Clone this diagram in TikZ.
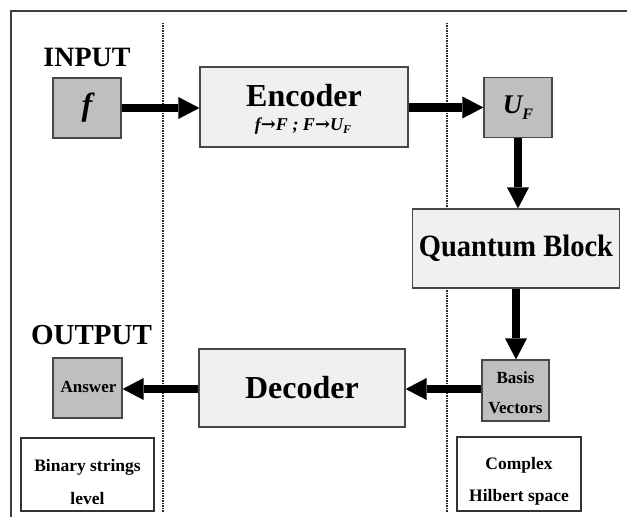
\documentclass[tikz,border=0pt]{standalone}
\usepackage{fontspec}
\usepackage{graphicx}
\setmainfont{Liberation Serif}
\newfontfamily\arrowfont{DejaVu Serif}
\usetikzlibrary{arrows.meta}
\newcommand{\setfs}[1]{\fontsize{#1}{#1}\selectfont}
\newcommand{\maparrow}{{\arrowfont\upshape\bfseries →}}

\tikzset{
  box/.style={draw=black!72, line width=1.2pt, inner sep=0pt, align=center, font=\bfseries},
  darkbox/.style={box, fill=black!25},
  lightbox/.style={box, fill=black!6},
  notebox/.style={box, fill=white, draw=black!80},
  txt/.style={inner sep=0pt, font=\bfseries},
  flow/.style={line width=8.5pt, draw=black,
    -{Triangle[length=21pt,width=22pt,line width=0pt]}},
  divider/.style={draw=black!85, line width=1.3pt, dash pattern=on 1.3pt off 1.2pt},
  frame/.style={draw=black!75, line width=1.4pt}
}

\begin{document}
\begin{tikzpicture}[x=1pt,y=-1pt]
\useasboundingbox (0,0) rectangle (627,518);

% outer frame and level separators
\draw[frame] (11,517) -- (11,11) -- (627,11);
\draw[divider] (163,23) -- (163,512);
\draw[divider] (447,23) -- (447,512);

% headings
\node[txt, font=\bfseries\setfs{28}] (input) at (87,57.5) {INPUT};
\node[txt, font=\bfseries\setfs{29}] (output) at (91.5,335) {OUTPUT};

% blocks
\node[darkbox, minimum width=68pt, minimum height=60pt] (f) at (87,108)
  {\setfs{32}\itshape f};
\node[lightbox, minimum width=208pt, minimum height=80pt] (enc) at (304,107) {};
\node[txt, anchor=base, font=\bfseries\setfs{32}] (enctitle) at (304,107) {Encoder};
\node[txt, anchor=base, font=\bfseries\itshape\setfs{18}] (encmap) at (303,131)
  {f\maparrow F ; F\maparrow U\raisebox{-3pt}{\setfs{12}F}};
\node[darkbox, minimum width=68pt, minimum height=60pt] (uf) at (518,107.5)
  {\setfs{27}\itshape U\raisebox{-6pt}{\setfs{16}F}};
\node[lightbox, minimum width=207pt, minimum height=79pt] (qb) at (516,248.5)
  {\setfs{31}\scalebox{0.92}[1]{Quantum Block}};
\node[darkbox, minimum width=67pt, minimum height=61pt] (bv) at (515.5,390.5) {};
\node[txt, anchor=base, font=\bfseries\setfs{17}] (bv1) at (515.5,384) {Basis};
\node[txt, anchor=base, font=\bfseries\setfs{17}] (bv2) at (515.5,414) {Vectors};
\node[lightbox, minimum width=206pt, minimum height=78pt] (dec) at (302,388)
  {\setfs{32}Decoder};
\node[darkbox, minimum width=69pt, minimum height=60pt] (ans) at (87.5,388) {};
\node[txt, anchor=base, font=\bfseries\setfs{17}] (anstext) at (88.5,393) {Answer};

% level notes
\node[notebox, minimum width=133pt, minimum height=73pt] (bin) at (87.5,474.5) {};
\node[txt, anchor=base, font=\bfseries\setfs{17.5}] (bin1) at (87.5,472) {Binary strings};
\node[txt, anchor=base, font=\bfseries\setfs{17.5}] (bin2) at (87.5,505) {level};
\node[notebox, minimum width=124pt, minimum height=74pt] (hil) at (519,474) {};
\node[txt, anchor=base, font=\bfseries\setfs{17.5}] (hil1) at (519,470) {Complex};
\node[txt, anchor=base, font=\bfseries\setfs{17.5}] (hil2) at (519,502) {Hilbert space};

% data flow
\draw[flow] (f.east) -- (f.east -| enc.west);
\draw[flow] (enc.east |- uf.west) -- (uf.west);
\draw[flow] (uf.south) -- (uf.south |- qb.north);
\draw[flow] (qb.south) -- (qb.south |- bv.north);
\draw[flow] (bv.west |- 0,389) -- (dec.east |- 0,389);
\draw[flow] (dec.west |- 0,389) -- (ans.east |- 0,389);
\end{tikzpicture}
\end{document}
